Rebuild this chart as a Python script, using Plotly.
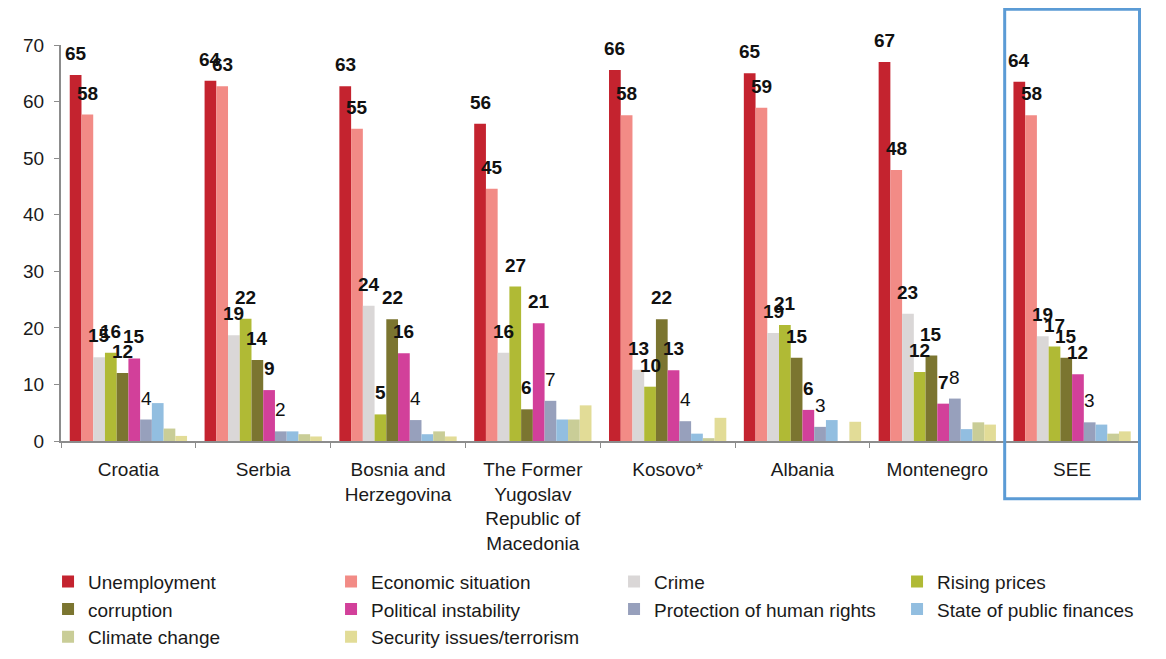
import plotly.graph_objects as go

# Categorías (países) y series
PAISES = ["Croatia", "Serbia", "Bosnia and<br>Herzegovina",
          "The Former<br>Yugoslav<br>Republic of<br>Macedonia",
          "Kosovo*", "Albania", "Montenegro", "SEE"]

SERIES = ["Unemployment", "Economic situation", "Crime", "Rising prices",
          "corruption", "Political instability", "Protection of human rights",
          "State of public finances", "Climate change", "Security issues/terrorism"]

COLORES = ["#C4232F", "#F28B86", "#DAD7D7", "#B0BA35", "#7B7530",
           "#D2409A", "#97A0BC", "#92BEE0", "#C9CD97", "#E2DC97"]

unemployment = [64.7, 63.7, 62.7, 56.1, 65.6, 65.0, 67.0, 63.5]
economic = [57.7, 62.7, 55.2, 44.6, 57.6, 58.9, 47.9, 57.6]
crime = [14.8, 18.7, 23.9, 15.6, 12.6, 19.1, 22.5, 18.5]
rising_prices = [15.6, 21.6, 4.7, 27.3, 9.6, 20.5, 12.2, 16.7]
corruption = [12.0, 14.3, 21.5, 5.6, 21.5, 14.7, 15.1, 14.7]
political = [14.6, 9.0, 15.5, 20.8, 12.5, 5.5, 6.6, 11.8]
human_rights = [3.8, 1.7, 3.7, 7.1, 3.5, 2.5, 7.5, 3.3]
public_finances = [6.7, 1.7, 1.2, 3.8, 1.3, 3.7, 2.1, 2.9]
climate = [2.2, 1.2, 1.7, 3.8, 0.5, 0.0, 3.3, 1.3]
security = [0.9, 0.8, 0.8, 6.3, 4.1, 3.4, 2.9, 1.7]

VALORES = [unemployment, economic, crime, rising_prices, corruption, political,
           human_rights, public_finances, climate, security]

N_ETIQUETADAS = 7  # solo las 7 primeras series llevan etiqueta
BARGAP = 0.13
FUENTE = "Liberation Sans, Arial, sans-serif"

fig = go.Figure()
for nombre, valores, color in zip(SERIES, VALORES, COLORES):
    # ancho fijo por entrada para que la leyenda quede en 4 columnas
    fig.add_trace(go.Bar(name=nombre, x=PAISES, y=valores,
                         legendwidth=238,
                         marker=dict(color=color, line=dict(width=0))))

# Etiquetas de datos encima de cada barra
n = len(SERIES)
ancho = (1 - BARGAP) / n
anotaciones = []
for i, valores in enumerate(VALORES[:N_ETIQUETADAS]):
    desplaz = -(1 - BARGAP) / 2 + ancho * (i + 0.5)
    for j, v in enumerate(valores):
        txt = str(int(v + 0.5))
        if i < 6:
            txt = f"<b>{txt}</b>"
        anotaciones.append(dict(x=j + desplaz, y=v, xref="x", yref="y",
                                text=txt, showarrow=False, yanchor="bottom",
                                yshift=9, font=dict(size=19, color="#111")))

fig.update_layout(
    barmode="group",
    bargap=BARGAP,
    bargroupgap=0,
    width=1158, height=651,
    margin=dict(l=53, r=25, t=37, b=218, autoexpand=False),
    plot_bgcolor="white", paper_bgcolor="white",
    font=dict(family=FUENTE, size=19, color="#1a1a1a"),
    annotations=anotaciones,
    legend=dict(orientation="h", x=-0.012, xanchor="left", y=-0.307, yanchor="top",
                entrywidthmode="pixels",
                font=dict(size=19, color="#1a1a1a"), traceorder="normal"),
    shapes=[dict(type="rect", xref="x", yref="paper", x0=6.5, x1=7.5,
                 y0=-0.146, y1=1.09, line=dict(color="#5B9BD5", width=3))],
)
fig.update_yaxes(range=[0, 70], dtick=10, showgrid=False, zeroline=False,
                 showline=True, linecolor="#8c8c8c", linewidth=2,
                 ticks="outside", ticklen=5, tickcolor="#8c8c8c",
                 ticklabelstandoff=6)
fig.update_xaxes(showgrid=False, showline=True, linecolor="#8c8c8c", linewidth=2,
                 ticks="outside", ticklen=5, tickcolor="#8c8c8c",
                 tickson="boundaries", tickangle=0, ticklabelstandoff=10)

fig.write_html("out.html")
